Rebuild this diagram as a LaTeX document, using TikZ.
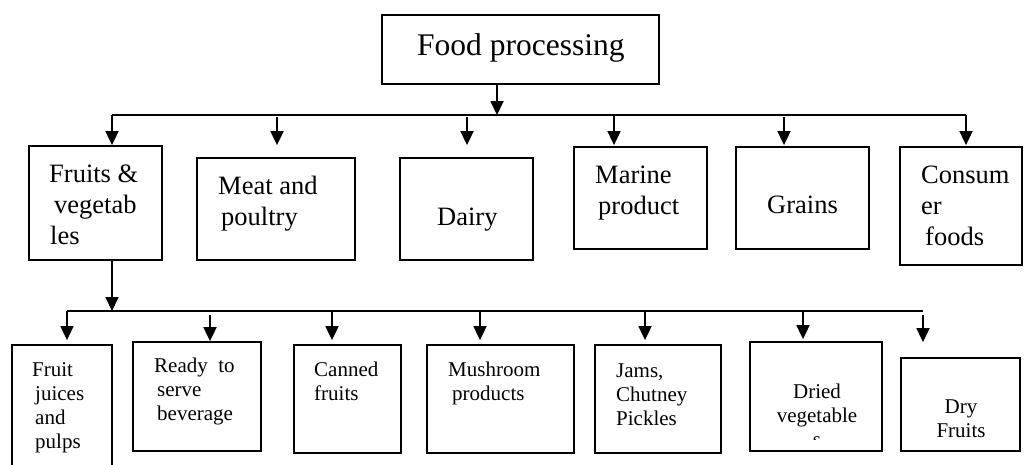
\documentclass[tikz,border=0pt]{standalone}
\usepackage{fontspec}
\setmainfont{Liberation Serif}
\usetikzlibrary{arrows.meta}
\newcommand\leftlines[1]{\vtop{\halign{##\hfil\cr#1\crcr}}}
\newcommand\centerlines[1]{\vtop{\halign{\hfil##\hfil\cr#1\crcr}}}
\tikzset{
  box/.style={draw, line width=1.8pt, inner sep=0pt},
  arr/.style={line width=1.8pt, -{Triangle[length=14pt,width=13pt]}},
  busline/.style={line width=1.8pt},
  txttop/.style={anchor=base west, inner sep=0pt, font=\fontsize{31.5}{38}\selectfont},
  txtone/.style={anchor=base west, inner sep=0pt, font=\fontsize{26.5}{31}\selectfont},
  txttwo/.style={anchor=base west, inner sep=0pt, font=\fontsize{21}{24}\selectfont},
  txttwoc/.style={anchor=base, inner sep=0pt, font=\fontsize{21}{24}\selectfont},
}
\begin{document}
\begin{tikzpicture}[x=1pt,y=-1pt]
\clip (0,0) rectangle (1024,464);
\fill[white] (0,0) rectangle (1024,464);

% boxes
\node[box, minimum width=277pt, minimum height=69pt] (top) at (520.5,49.5) {};

\node[box, minimum width=133pt, minimum height=114pt] (fru) at (95.5,203) {};
\node[box, minimum width=158pt, minimum height=102pt] (mea) at (276,209) {};
\node[box, minimum width=133pt, minimum height=102pt] (dai) at (466.5,209) {};
\node[box, minimum width=133pt, minimum height=102pt] (mar) at (640.5,198) {};
\node[box, minimum width=133pt, minimum height=102pt] (gra) at (802.5,198) {};
\node[box, minimum width=122pt, minimum height=118pt] (con) at (961,206) {};

\node[box, minimum width=100pt, minimum height=135pt] (juc) at (62,412.5) {};
\node[box, minimum width=128pt, minimum height=109pt] (rdy) at (197,396.5) {};
\node[box, minimum width=107pt, minimum height=108pt] (can) at (347.5,399) {};
\node[box, minimum width=147pt, minimum height=108pt] (mus) at (500.5,399) {};
\node[box, minimum width=126pt, minimum height=108pt] (jam) at (658,399) {};
\node[box, minimum width=132pt, minimum height=109pt] (dri) at (816,396.5) {};
\node[box, minimum width=119pt, minimum height=93pt] (dry) at (960.5,404.5) {};

% texts
\node[txttop] (ttop) at (417,55) {Food processing};

\node[txtone] (tfru) at (49,182) {\leftlines{Fruits \&\cr\hspace*{5pt}vegetab\cr\hspace*{1pt}les}};
\node[txtone] (tmea) at (218,194) {\leftlines{Meat and\cr\hspace*{3pt}poultry}};
\node[txtone] (tdai) at (437,225) {Dairy};
\node[txtone] (tmar) at (595,183) {\leftlines{Marine\cr\hspace*{3pt}product}};
\node[txtone] (tgra) at (767,213) {Grains};
\node[txtone] (tcon) at (921,183) {\leftlines{Consum\cr er\cr\hspace*{4pt}foods}};

\node[txttwo] (tjuc) at (32,376) {\leftlines{Fruit\cr\hspace*{3pt}juices\cr\hspace*{3pt}and\cr\hspace*{3pt}pulps}};
\node[txttwo] (trdy) at (154,372) {\leftlines{Ready\ \ to\cr\hspace*{3pt}serve\cr\hspace*{3pt}beverage}};
\node[txttwo] (tcan) at (314,376) {\leftlines{Canned\cr fruits}};
\node[txttwo] (tmus) at (448,376) {\leftlines{Mushroom\cr\hspace*{4pt}products}};
\node[txttwo] (tjam) at (616,377) {\leftlines{Jams,\cr Chutney\cr Pickles}};
\begin{scope}
\clip (751,343) rectangle (881,439);
\node[txttwoc] (tdri) at (817,398) {\centerlines{Dried\cr vegetable\cr s}};
\end{scope}
\node[txttwoc] (tdry) at (961,413) {\centerlines{Dry\cr Fruits}};

% connectors level 1
\coordinate (b0) at (497,115);
\coordinate (bL) at (112,115);
\coordinate (bR) at (966,115);
\coordinate (b2) at (277,115);
\coordinate (b3) at (467,115);
\coordinate (b4) at (614,115);
\coordinate (b5) at (784,115);

\draw[arr] (top.south -| b0) -- (b0);
\draw[busline] (bL) -- (bR);
\draw[arr] (bL) -- (bL |- fru.north);
\draw[arr, shorten <=2pt, shorten >=12pt] (b2) -- (b2 |- mea.north);
\draw[arr, shorten <=2pt, shorten >=12pt] (b3) -- (b3 |- dai.north);
\draw[arr, shorten >=1pt] (b4) -- (b4 |- mar.north);
\draw[arr, shorten <=2pt, shorten >=1pt] (b5) -- (b5 |- gra.north);
\draw[arr, shorten >=1pt] (bR) -- (bR |- con.north);

% connectors level 2
\coordinate (c0) at (112,311);
\coordinate (cL) at (67,311);
\coordinate (cR) at (923,311);
\coordinate (c2) at (210,311);
\coordinate (c3) at (332,311);
\coordinate (c4) at (480,311);
\coordinate (c5) at (645,311);
\coordinate (c6) at (803,311);

\draw[arr] (fru.south -| c0) -- (c0);
\draw[busline] (cL) -- (cR);
\draw[arr, shorten >=4pt] (cL) -- (cL |- juc.north);
\draw[arr, shorten <=4pt] (c2) -- (c2 |- rdy.north);
\draw[arr, shorten >=4pt] (c3) -- (c3 |- can.north);
\draw[arr, shorten >=4pt] (c4) -- (c4 |- mus.north);
\draw[arr, shorten >=4pt] (c5) -- (c5 |- jam.north);
\draw[arr, shorten >=2pt] (c6) -- (c6 |- dri.north);
\draw[arr, shorten <=4pt, shorten >=15pt] (cR) -- (cR |- dry.north);
\end{tikzpicture}
\end{document}
